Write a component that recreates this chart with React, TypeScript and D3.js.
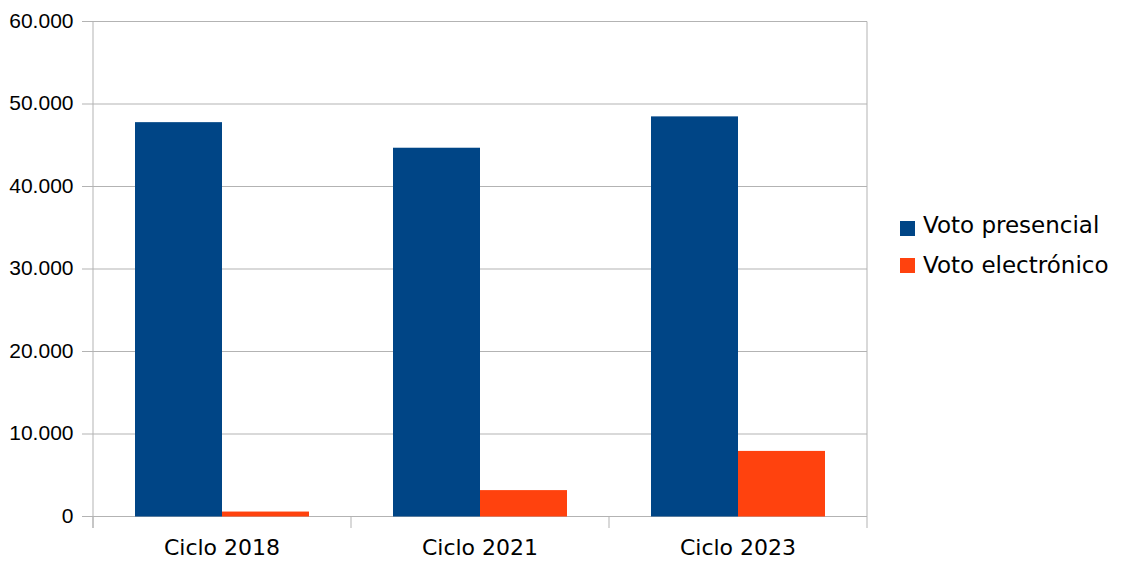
import React from "react";
import * as d3 from "d3";

const categories = ["Ciclo 2018", "Ciclo 2021", "Ciclo 2023"];
const seriesNames = ["Voto presencial", "Voto electrónico"];
const presencial = [47800, 44700, 48500];
const electronico = [600, 3200, 7950];
const yTicks = [0, 10000, 20000, 30000, 40000, 50000, 60000];
const colors = ["#004586", "#ff420e"];

export default function App() {
  const W = 1121, H = 563;
  const left = 93, right = 867, top = 21.5, bottom = 516.5;
  const x = d3.scaleBand<string>().domain(categories).range([left, right]).paddingInner(0).paddingOuter(0);
  const y = d3.scaleLinear().domain([0, 60000]).range([bottom, top]);
  const fmt = (v: number) => d3.format(",")(v).replace(/,/g, ".");
  const series = [presencial, electronico];
  const font = "'DejaVu Sans', sans-serif";
  const bw = 87;
  const offset = (x.bandwidth() - 2 * bw) / 2;
  return (
    <svg width={W} height={H} style={{ position: "absolute", left: 0, top: 0, background: "#fff" }} fontFamily={font}>
      {yTicks.map((t) => (
        <g key={t}>
          <line x1={82} x2={right} y1={y(t)} y2={y(t)} stroke="#b3b3b3" strokeWidth={1} />
          <text x={73.5} y={y(t) + 6} textAnchor="end" fontSize={21} fontFamily="'Liberation Sans', Arial, sans-serif" fill="#000">{fmt(t)}</text>
        </g>
      ))}
      <line x1={left} x2={left} y1={top} y2={528} stroke="#b3b3b3" />
      <line x1={right} x2={right} y1={top} y2={528} stroke="#b3b3b3" />
      {categories.map((c, i) => (
        <line key={"tk" + i} x1={x(c)!} x2={x(c)!} y1={bottom} y2={528} stroke="#b3b3b3" />
      ))}
      {series.map((vals, si) =>
        vals.map((v, ci) => (
          <rect key={si + "-" + ci}
            x={x(categories[ci])! + offset + si * bw}
            y={y(v)} width={bw} height={y(0) - y(v)} fill={colors[si]} />
        ))
      )}
      {categories.map((c) => (
        <text key={c} x={x(c)! + x.bandwidth() / 2} y={555} textAnchor="middle" fontSize={22} fill="#000">{c}</text>
      ))}
      {seriesNames.map((s, i) => (
        <g key={s}>
          <rect x={900} y={221 + i * 37} width={15} height={15} fill={colors[i]} />
          <text x={923} y={232.5 + i * 40} fontSize={23} fill="#000">{s}</text>
        </g>
      ))}
    </svg>
  );
}
